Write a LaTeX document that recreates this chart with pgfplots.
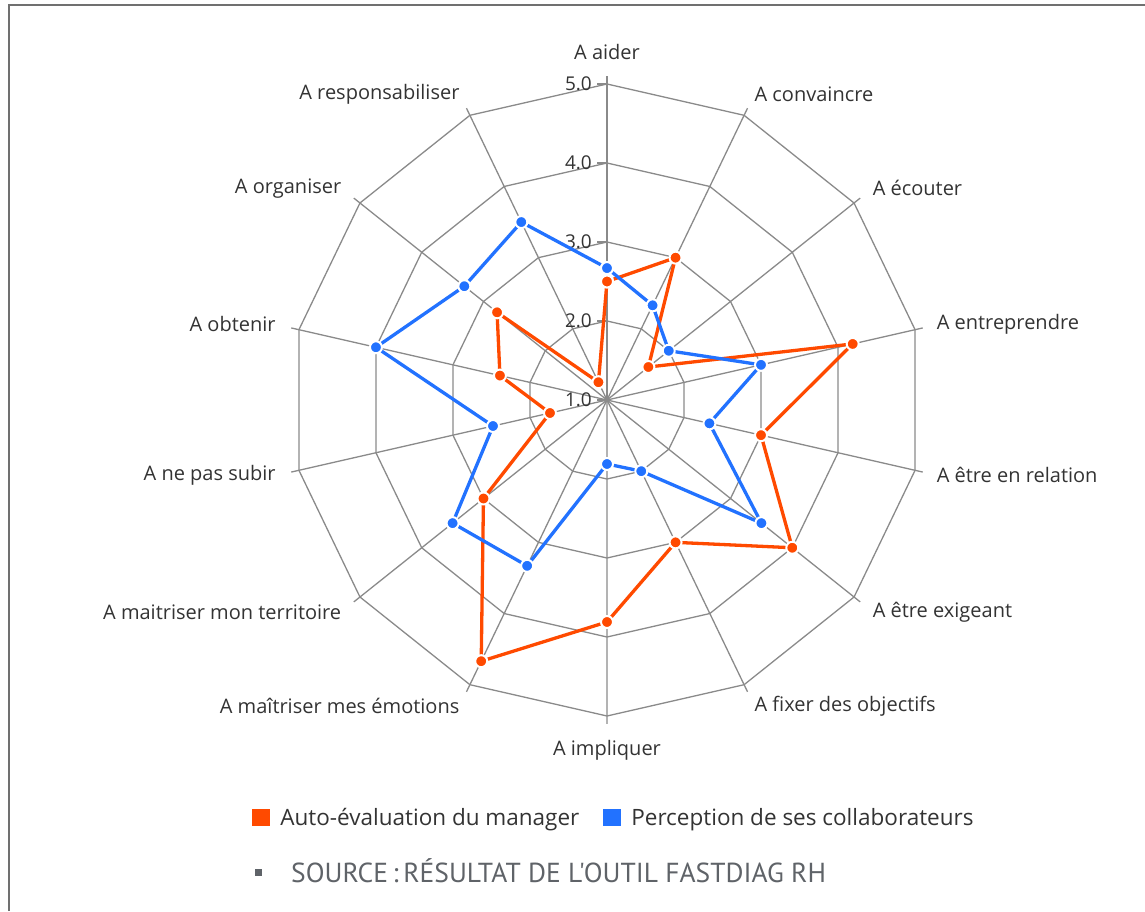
\documentclass[border=0pt]{standalone}
\usepackage{fontspec}
\setmainfont{Open Sans}
\newfontfamily\ptsans{PT Sans}
\usepackage{pgfplots}
\pgfplotsset{compat=1.18}
\usepgfplotslibrary{polar}
\usepackage{pgfplotstable}

\definecolor{myorange}{HTML}{FF4A00}
\definecolor{myblue}{HTML}{2272FF}
\definecolor{gridgray}{HTML}{8A8A8A}
\definecolor{txt}{HTML}{333333}
\definecolor{srcgray}{HTML}{5F6368}
\definecolor{framegray}{HTML}{707070}

% k = axis index (0 = "A aider", clockwise); row 14 closes the polygon
\pgfplotstableread{
k  auto  perc
0  2.50  2.67
1  3.00  2.33
2  1.67  2.00
3  4.19  3.00
4  3.00  2.33
5  4.00  3.50
6  3.00  2.00
7  3.81  1.81
8  4.67  3.33
9  3.00  3.50
10 1.74  2.48
11 2.39  4.00
12 2.78  3.31
13 1.25  3.50
14 2.50  2.67
}\radar

\begin{document}
\begin{tikzpicture}
\useasboundingbox (0,0) rectangle (1145pt,911pt);
\draw[framegray, line width=1.8pt] (9pt,0pt) -- (9pt,906pt) -- (1146pt,906pt);
\begin{polaraxis}[
  at={(607pt,511pt)}, anchor=center,
  width=632pt, height=632pt, scale only axis,
  xmin=0, xmax=360, ymin=0, ymax=4,
  hide axis, clip=false,
  legend columns=2,
  legend style={draw=none, fill=none, at={(0.511,-0.161)}, anchor=center,
    font=\fontsize{22.5}{26}\selectfont, text=txt,
    /tikz/every even column/.append style={column sep=22pt}},
]
% grid rings
\pgfplotsinvokeforeach{1,2,3,4}{
  \addplot[gridgray, line width=1.3pt, no marks, forget plot]
    table[x expr={90-\thisrow{k}*360/14}, y expr=#1] {\radar};
}
% spokes
\pgfplotsinvokeforeach{0,...,13}{
  \draw[gridgray, line width=1.3pt] (axis cs:0,0) -- (axis cs:{90-#1*360/14},4.1);
}
% radial tick labels
\pgfplotsinvokeforeach{0,1,2,3,4}{
  \draw[gridgray, line width=1.3pt] (axis cs:90,#1) -- ++(-10pt,0);
}
\begin{scope}[every node/.style={anchor=east, inner sep=0pt, text=txt, font=\fontsize{19}{22}\selectfont}]
\node at (axis cs:90,0) [xshift=-15pt] {1.0};
\node at (axis cs:90,1) [xshift=-15pt] {2.0};
\node at (axis cs:90,2) [xshift=-15pt] {3.0};
\node at (axis cs:90,3) [xshift=-15pt] {4.0};
\node at (axis cs:90,4) [xshift=-15pt] {5.0};
\end{scope}
% category labels
\begin{scope}[every node/.style={inner sep=0pt, text=txt, font=\fontsize{20}{24}\selectfont}]
\node[anchor=south] at (axis cs:90,4.3) {A aider};
\node[anchor=west] at (axis cs:64.2857,4.3) {A convaincre};
\node[anchor=west] at (axis cs:38.5714,4.3) {A écouter};
\node[anchor=west] at (axis cs:12.8571,4.28) {A entreprendre};
\node[anchor=west] at (axis cs:-12.8571,4.28) {A être en relation};
\node[anchor=west] at (axis cs:-38.5714,4.3) {A être exigeant};
\node[anchor=west] at (axis cs:-64.2857,4.3) {A fixer des objectifs};
\node[anchor=north] at (axis cs:-90,4.3) {A impliquer};
\node[anchor=east] at (axis cs:-115.714,4.3) {A maîtriser mes émotions};
\node[anchor=east] at (axis cs:-141.429,4.3) {A maitriser mon territoire};
\node[anchor=east] at (axis cs:-167.143,4.3) {A ne pas subir};
\node[anchor=east] at (axis cs:-192.857,4.3) {A obtenir};
\node[anchor=east] at (axis cs:-218.571,4.3) {A organiser};
\node[anchor=east] at (axis cs:-244.286,4.3) {A responsabiliser};
\end{scope}
% data series
\addplot[myorange, line width=3.3pt, line join=round, mark=*, mark size=6pt,
  mark options={fill=myorange, draw=white, line width=2pt}, forget plot]
  table[x expr={90-\thisrow{k}*360/14}, y expr={\thisrow{auto}-1}] {\radar};
\addplot[myblue, line width=3.3pt, line join=round, mark=*, mark size=6pt,
  mark options={fill=myblue, draw=white, line width=2pt}, forget plot]
  table[x expr={90-\thisrow{k}*360/14}, y expr={\thisrow{perc}-1}] {\radar};
% legend
\addlegendimage{legend image code/.code={\fill[myorange, draw=none] (0pt,-8.7pt) rectangle (17.4pt,8.7pt); \path[draw=none, fill=none] (0pt,0pt) rectangle (26pt,0pt);}}
\addlegendentry{Auto-évaluation du manager}
\addlegendimage{legend image code/.code={\fill[myblue, draw=none] (0pt,-8.7pt) rectangle (17.4pt,8.7pt); \path[draw=none, fill=none] (0pt,0pt) rectangle (26pt,0pt);}}
\addlegendentry{Perception de ses collaborateurs}
\end{polaraxis}
% source line
\fill[srcgray] (254.5pt,35.5pt) rectangle ++(7pt,7pt);
\node[anchor=base west, inner sep=0pt, text=srcgray] at (291pt,29pt)
  {\ptsans\fontsize{27.5}{32}\selectfont SOURCE\,:\,RÉSULTAT DE L\char"27 OUTIL FASTDIAG RH};
\end{tikzpicture}
\end{document}
